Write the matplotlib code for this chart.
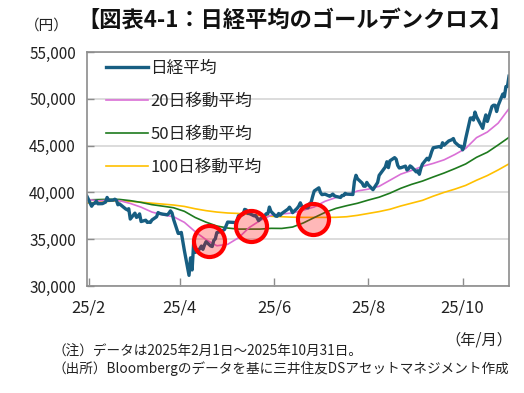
import matplotlib
matplotlib.use("Agg")
import matplotlib.pyplot as plt
import matplotlib.dates as mdates
import pandas as pd

plt.rcParams['font.family'] = ['Noto Sans CJK JP', 'DejaVu Sans']

# ---------------- data ----------------
nikkei_dates = [
    "01-31", "02-03", "02-04", "02-05", "02-06", "02-07", "02-10", "02-12", "02-13", "02-14",
    "02-17", "02-18", "02-19", "02-20", "02-21", "02-25", "02-26", "02-27", "02-28",
    "03-03", "03-04", "03-05", "03-06", "03-07", "03-10", "03-11", "03-12", "03-13", "03-14",
    "03-17", "03-18", "03-19", "03-21", "03-24", "03-25", "03-26", "03-27", "03-28", "03-31",
    "04-01", "04-02", "04-03", "04-04", "04-07", "04-08", "04-09", "04-10", "04-11", "04-14",
    "04-15", "04-16", "04-17", "04-18", "04-21", "04-22", "04-23", "04-24", "04-25", "04-28",
    "04-30", "05-01", "05-02", "05-07", "05-08", "05-09", "05-12", "05-13", "05-14", "05-15",
    "05-16", "05-19", "05-20", "05-21", "05-22", "05-23", "05-26", "05-27", "05-28", "05-29",
    "05-30", "06-02", "06-03", "06-04", "06-05", "06-06", "06-09", "06-10", "06-11", "06-12",
    "06-13", "06-16", "06-17", "06-18", "06-19", "06-20", "06-23", "06-24", "06-25", "06-26",
    "06-27", "06-30", "07-01", "07-02", "07-03", "07-04", "07-07", "07-08", "07-09", "07-10",
    "07-11", "07-14", "07-15", "07-16", "07-17", "07-18", "07-22", "07-23", "07-24", "07-25",
    "07-28", "07-29", "07-30", "07-31", "08-01", "08-04", "08-05", "08-06", "08-07", "08-08",
    "08-12", "08-13", "08-14", "08-15", "08-18", "08-19", "08-20", "08-21", "08-22", "08-25",
    "08-26", "08-27", "08-28", "08-29", "09-01", "09-02", "09-03", "09-04", "09-05", "09-08",
    "09-09", "09-10", "09-11", "09-12", "09-16", "09-17", "09-18", "09-19", "09-22", "09-24",
    "09-25", "09-26", "09-29", "09-30", "10-01", "10-02", "10-03", "10-06", "10-07", "10-08",
    "10-09", "10-10", "10-14", "10-15", "10-16", "10-17", "10-20", "10-21", "10-22", "10-23",
    "10-24", "10-27", "10-28", "10-29", "10-30", "10-31",
]
nikkei_close = [
    39572, 38520, 38798, 38831, 39066, 38787, 38801, 38963, 39461, 39149,
    39174, 39270, 39164, 38678, 38776, 38237, 38142, 38256, 37155,
    37785, 37331, 37418, 37705, 36887, 37028, 36793, 36819, 36790, 37053,
    37396, 37845, 37751, 37677, 37608, 37780, 38027, 37799, 37120, 35617,
    35624, 35725, 34736, 33780, 31136, 33012, 31714, 34609, 33586, 33982,
    34267, 33920, 34377, 34730, 34280, 34220, 34868, 35039, 35705, 35840,
    36045, 36452, 36830, 36780, 36928, 37503, 37644, 38183, 38128, 37755,
    37753, 37498, 37529, 37299, 36985, 37160, 37531, 37724, 37722, 38432,
    37965, 37470, 37446, 37747, 37554, 37741, 38088, 38211, 38421, 38173,
    37834, 38311, 38536, 38885, 38488, 38403, 38354, 38790, 38942, 39584,
    40150, 40487, 39986, 39762, 39785, 39810, 39587, 39688, 39821, 39646,
    39570, 39459, 39678, 39663, 39901, 39819, 39775, 41171, 41826, 41456,
    40998, 40675, 40654, 41069, 40800, 40290, 40549, 40794, 41059, 41820,
    42718, 43274, 42649, 43378, 43714, 43546, 42888, 42610, 42633, 42807,
    42394, 42520, 42829, 42718, 42188, 42310, 41938, 42580, 43018, 43643,
    43459, 43837, 44372, 44768, 44902, 44790, 45303, 45045, 45493, 45630,
    45754, 45354, 44913, 44932, 44550, 44936, 45769, 47944, 47950, 47734,
    48580, 48088, 46847, 47672, 48277, 47582, 49185, 49316, 49307, 48641,
    49299, 50512, 50219, 51307, 51325, 52411,
]

ma_dates = [
    "01-31", "02-07", "02-14", "02-21", "02-28", "03-07", "03-14", "03-21", "03-28", "04-04",
    "04-11", "04-18", "04-25", "05-02", "05-09", "05-16", "05-23", "05-30", "06-06", "06-13",
    "06-20", "06-27", "07-04", "07-11", "07-18", "07-25", "08-01", "08-08", "08-15", "08-22",
    "08-29", "09-05", "09-12", "09-19", "09-26", "10-03", "10-10", "10-17", "10-24", "10-31",
]
ma20 = [
    39260, 39100, 39170, 39120, 38820, 38420, 37900, 37600, 37400, 36800,
    35800, 34950, 34300, 34450, 35150, 36250, 37000, 37550, 37700, 37800,
    38100, 38450, 39050, 39450, 39750, 40150, 40350, 40650, 41300, 41950,
    42350, 42780, 43100, 43480, 44050, 44700, 45850, 46450, 47400, 48950,
]
ma50 = [
    39200, 39230, 39260, 39250, 39120, 38930, 38690, 38530, 38360, 37980,
    37320, 36820, 36410, 36190, 36080, 36080, 36080, 36160, 36150, 36300,
    36740, 37310, 37860, 38290, 38580, 38840, 39180, 39490, 39920, 40440,
    40860, 41210, 41650, 42070, 42540, 43040, 43750, 44290, 45070, 45880,
]
ma100 = [
    38850, 38950, 39050, 39100, 39050, 38950, 38850, 38750, 38650, 38500,
    38250, 38050, 37900, 37800, 37750, 37650, 37550, 37450, 37400, 37350,
    37330, 37330, 37330, 37340, 37400, 37550, 37750, 37950, 38200, 38550,
    38850, 39150, 39600, 40000, 40350, 40750, 41300, 41800, 42400, 43050,
]

cross_dates = ["04-20", "05-17", "06-26"]
cross_values = [34800, 36450, 37130]

series_labels = ["日経平均", "20日移動平均", "50日移動平均", "100日移動平均"]
xtick_dates = ["02-01", "04-01", "06-01", "08-01", "10-01"]
xtick_labels = ["25/2", "25/4", "25/6", "25/8", "25/10"]
ytick_values = [30000, 35000, 40000, 45000, 50000, 55000]


def to_dt(lst):
    return pd.to_datetime(["2025-" + d for d in lst])


# ---------------- figure ----------------
W, H = 524, 393
fig = plt.figure(figsize=(W / 100, H / 100), dpi=100)
ax = fig.add_axes([87 / W, 1 - 286 / H, (509 - 87) / W, (286 - 52) / H])

d_n = to_dt(nikkei_dates)
d_m = to_dt(ma_dates)

ax.plot(d_m, ma100, color="#FFC000", lw=1.2, zorder=2, label=series_labels[3])
ax.plot(d_m, ma50, color="#1E7A1E", lw=1.2, zorder=2.1, label=series_labels[2])
ax.plot(d_m, ma20, color="#DA70D6", lw=1.2, zorder=2.2, label=series_labels[1])
ax.plot(d_n, nikkei_close, color="#175E82", lw=2.4, zorder=2.5, label=series_labels[0])

ax.scatter(to_dt(cross_dates), cross_values, s=500, facecolor=(1, 0, 0, 0.28),
           edgecolor="#FF0000", linewidth=3.0, zorder=5)

ax.set_ylim(30000, 55000)
ax.set_xlim(pd.Timestamp("2025-01-31"), pd.Timestamp("2025-10-31"))
ax.set_yticks(ytick_values)
ax.set_yticklabels([f"{v:,}" for v in ytick_values])
ax.set_xticks(to_dt(xtick_dates))
ax.set_xticklabels(xtick_labels)

ax.grid(axis="y", color="#D9D9D9", lw=1.3, zorder=0)
ax.set_axisbelow(True)
for s in ax.spines.values():
    s.set_color("#8C8C8C")
    s.set_linewidth(1.2)

ax.tick_params(axis="y", direction="in", length=5, color="#8C8C8C", width=1,
               labelsize=11, pad=8, labelcolor="#222222")
ax.tick_params(axis="x", direction="in", length=6, color="#8C8C8C", width=1,
               labelsize=12, pad=10, labelcolor="#222222")

# legend (order: Nikkei, 20, 50, 100)
handles, labels = ax.get_legend_handles_labels()
order = [3, 2, 1, 0]
leg = ax.legend([handles[i] for i in order], [labels[i] for i in order],
                loc="upper left", bbox_to_anchor=(106 / W, 1 - 60 / H),
                bbox_transform=fig.transFigure, frameon=False, fontsize=12,
                handlelength=2.5, handletextpad=0.15, labelspacing=0.95,
                borderpad=0, borderaxespad=0)
for t in leg.get_texts():
    t.set_color("#222222")

# texts
fig.text(295 / W, 1 - 20 / H, "【図表4-1：日経平均のゴールデンクロス】",
         ha="center", va="center", fontsize=16, fontweight="bold", color="#111111")
fig.text(47 / W, 1 - 26 / H, "（円）", ha="center", va="center", fontsize=10.5,
         color="#222222")
fig.text(512 / W, 1 - 340 / H, "（年/月）", ha="right", va="center", fontsize=11,
         color="#222222")
fig.text(52 / W, 1 - 352 / H, "（注）データは2025年2月1日～2025年10月31日。",
         ha="left", va="center", fontsize=9.8, color="#222222")
fig.text(52 / W, 1 - 369 / H,
         "（出所）Bloombergのデータを基に三井住友DSアセットマネジメント作成",
         ha="left", va="center", fontsize=9.8, color="#222222")

fig.savefig("out.png", dpi=100)
